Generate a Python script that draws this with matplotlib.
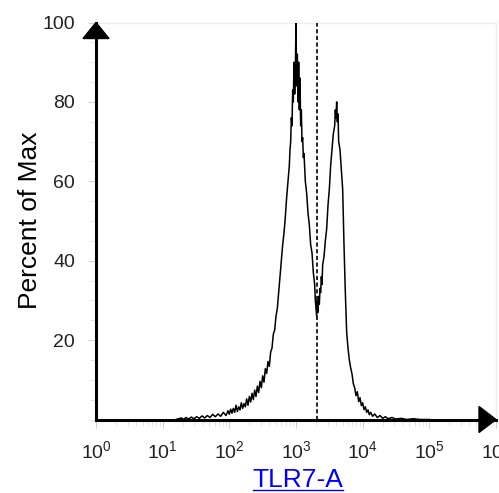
import matplotlib
matplotlib.use("Agg")
import matplotlib.pyplot as plt
from matplotlib.patches import Polygon
from matplotlib.lines import Line2D
from matplotlib.ticker import MultipleLocator, LogLocator, NullFormatter

plt.rcParams["font.family"] = ["Liberation Sans", "DejaVu Sans"]
plt.rcParams["mathtext.fontset"] = "custom"
plt.rcParams["mathtext.rm"] = "Liberation Sans"
plt.rcParams["mathtext.it"] = "Liberation Sans:italic"

# histogram: log10 of TLR7-A channel vs percent of max
log_tlr7 = [1.20, 1.28, 1.31, 1.35, 1.39, 1.43, 1.47, 1.51, 1.55, 1.59, 1.63, 1.67, 1.71, 1.75,
            1.79, 1.83, 1.87, 1.91, 1.95, 1.98, 2.00, 2.02, 2.04, 2.06, 2.08, 2.10, 2.12, 2.14,
            2.16, 2.18, 2.20, 2.22, 2.24, 2.26, 2.28, 2.30, 2.32, 2.34, 2.36, 2.38, 2.40, 2.42,
            2.44, 2.46, 2.48, 2.50, 2.52, 2.54, 2.56, 2.58, 2.60, 2.62, 2.64, 2.66, 2.68, 2.70,
            2.72, 2.74, 2.76, 2.78, 2.80, 2.82, 2.84, 2.86, 2.88, 2.90, 2.91, 2.92, 2.93, 2.94,
            2.95, 2.96, 2.97, 2.98, 2.99, 3.00, 3.01, 3.02, 3.03, 3.04, 3.05, 3.06, 3.07, 3.08,
            3.09, 3.10, 3.11, 3.12, 3.14, 3.16, 3.18, 3.20, 3.22, 3.24, 3.26, 3.28, 3.29, 3.30,
            3.31, 3.32, 3.33, 3.34, 3.35, 3.36, 3.37, 3.38, 3.39, 3.40, 3.42, 3.44, 3.46, 3.48,
            3.50, 3.52, 3.54, 3.56, 3.58, 3.59, 3.60, 3.61, 3.62, 3.63, 3.64, 3.66, 3.68, 3.70,
            3.72, 3.74, 3.76, 3.78, 3.80, 3.82, 3.84, 3.86, 3.88, 3.90, 3.92, 3.94, 3.96, 3.98,
            4.00, 4.02, 4.04, 4.06, 4.08, 4.10, 4.12, 4.15, 4.18, 4.22, 4.26, 4.30, 4.34, 4.38,
            4.44, 4.50, 4.58, 4.66, 4.76, 4.86, 5.00]
pct_max = [0.0, 0.4, 0.0, 0.5, 0.1, 0.6, 0.2, 0.7, 0.3, 0.9, 0.4, 1.0, 0.5, 1.3,
           0.7, 1.4, 0.8, 1.8, 1.0, 2.2, 1.3, 2.6, 1.6, 2.8, 1.8, 3.6, 2.0, 3.2,
           2.4, 4.2, 2.8, 4.0, 3.2, 5.2, 3.6, 5.8, 4.4, 6.6, 5.0, 7.4, 5.8, 8.4,
           6.8, 9.6, 8.0, 11.0, 9.4, 12.8, 11.6, 14.6, 13.4, 17.0, 18.0, 21.5, 22.5, 26.0,
           28.0, 32.0, 36.0, 40.0, 44.0, 47.0, 51.0, 56.0, 60.0, 64.0, 68.0, 70.0, 76.0, 74.0,
           83.0, 80.0, 90.0, 82.0, 88.0, 100.0, 84.0, 92.0, 80.0, 90.0, 78.0, 86.0, 74.0, 78.0,
           70.0, 71.0, 66.0, 67.0, 60.0, 57.0, 52.0, 49.0, 44.0, 42.0, 37.0, 34.0, 30.0, 28.0,
           26.0, 30.0, 27.0, 31.0, 29.0, 33.0, 32.0, 36.0, 34.0, 39.0, 41.0, 45.0, 48.0, 54.0,
           58.0, 64.0, 68.0, 72.0, 74.0, 78.0, 76.0, 80.0, 75.0, 77.0, 70.0, 68.0, 63.0, 58.0,
           44.0, 32.0, 22.0, 18.0, 15.0, 13.0, 11.5, 9.0, 8.0, 6.0, 7.0, 4.5, 5.5, 3.5,
           4.2, 2.5, 3.2, 1.8, 2.4, 1.2, 1.8, 0.8, 1.4, 0.5, 1.0, 0.3, 0.7, 0.2,
           0.5, 0.1, 0.3, 0.0, 0.2, 0.0, 0.0]
gate_x = 2050
x_ticks = [1e0, 1e1, 1e2, 1e3, 1e4, 1e5, 1e6]
x_ticklabels = [r"$\mathregular{10^{%d}}$" % i for i in range(7)]
y_ticks = [20, 40, 60, 80, 100]

W, H = 499, 493
fig = plt.figure(figsize=(W / 100, H / 100), dpi=100)
ax_l, ax_r, ax_t, ax_b = 96, 496, 22.5, 419.5
ax = fig.add_axes([ax_l / W, 1 - ax_b / H, (ax_r - ax_l) / W, (ax_b - ax_t) / H])

ax.plot([10 ** v for v in log_tlr7], pct_max, color="black", lw=1.1, zorder=3)
ax.plot([gate_x, gate_x], [0, 100], color="black", lw=1.2, dashes=(2.5, 1.5), zorder=4)

ax.set_xscale("log")
ax.set_xlim(1, 1e6)
ax.set_ylim(0, 100)

ax.set_xticks(x_ticks)
ax.set_xticklabels(x_ticklabels, fontsize=14, color="#222222")
ax.xaxis.set_minor_locator(LogLocator(base=10, subs=range(2, 10), numticks=100))
ax.xaxis.set_minor_formatter(NullFormatter())
ax.set_yticks(y_ticks)
ax.set_yticklabels([str(v) for v in y_ticks], fontsize=14, color="#222222")
ax.yaxis.set_minor_locator(MultipleLocator(5))

ax.tick_params(axis="both", which="major", color="#d0d0d0", length=6, width=0.8, pad=9)
ax.tick_params(axis="both", which="minor", color="#e0e0e0", length=4, width=0.6)

for side in ["left", "bottom"]:
    ax.spines[side].set_linewidth(2.2)
    ax.spines[side].set_color("black")
    ax.spines[side].set_zorder(5)
for side in ["top", "right"]:
    ax.spines[side].set_linewidth(1.0)
    ax.spines[side].set_color("#eeeeee")

# arrowheads on the two axes
aw, ah = ax_r - ax_l, ax_b - ax_t
up = Polygon([(0, 1), (-13 / aw, 1 - 16 / ah), (13 / aw, 1 - 16 / ah)], closed=True,
             transform=ax.transAxes, clip_on=False, color="black", zorder=6)
right = Polygon([(1, 0), (1 - 17 / aw, 13 / ah), (1 - 17 / aw, -13 / ah)], closed=True,
                transform=ax.transAxes, clip_on=False, color="black", zorder=6)
ax.add_patch(up)
ax.add_patch(right)

fig.text(30 / W, 1 - 220 / H, "Percent of Max", rotation=90, fontsize=19,
         ha="center", va="center")
xl = fig.text(298 / W, 1 - 487 / H, "TLR7-A", fontsize=19, color="#0000ff",
              ha="center", va="baseline")

# underline under the axis title
fig.canvas.draw()
bb = xl.get_window_extent()
fig.add_artist(Line2D([bb.x0 / W, bb.x1 / W], [1 - 490 / H, 1 - 490 / H],
                      transform=fig.transFigure, color="#0000ff", lw=1.0))

fig.savefig("out.png", dpi=100)
